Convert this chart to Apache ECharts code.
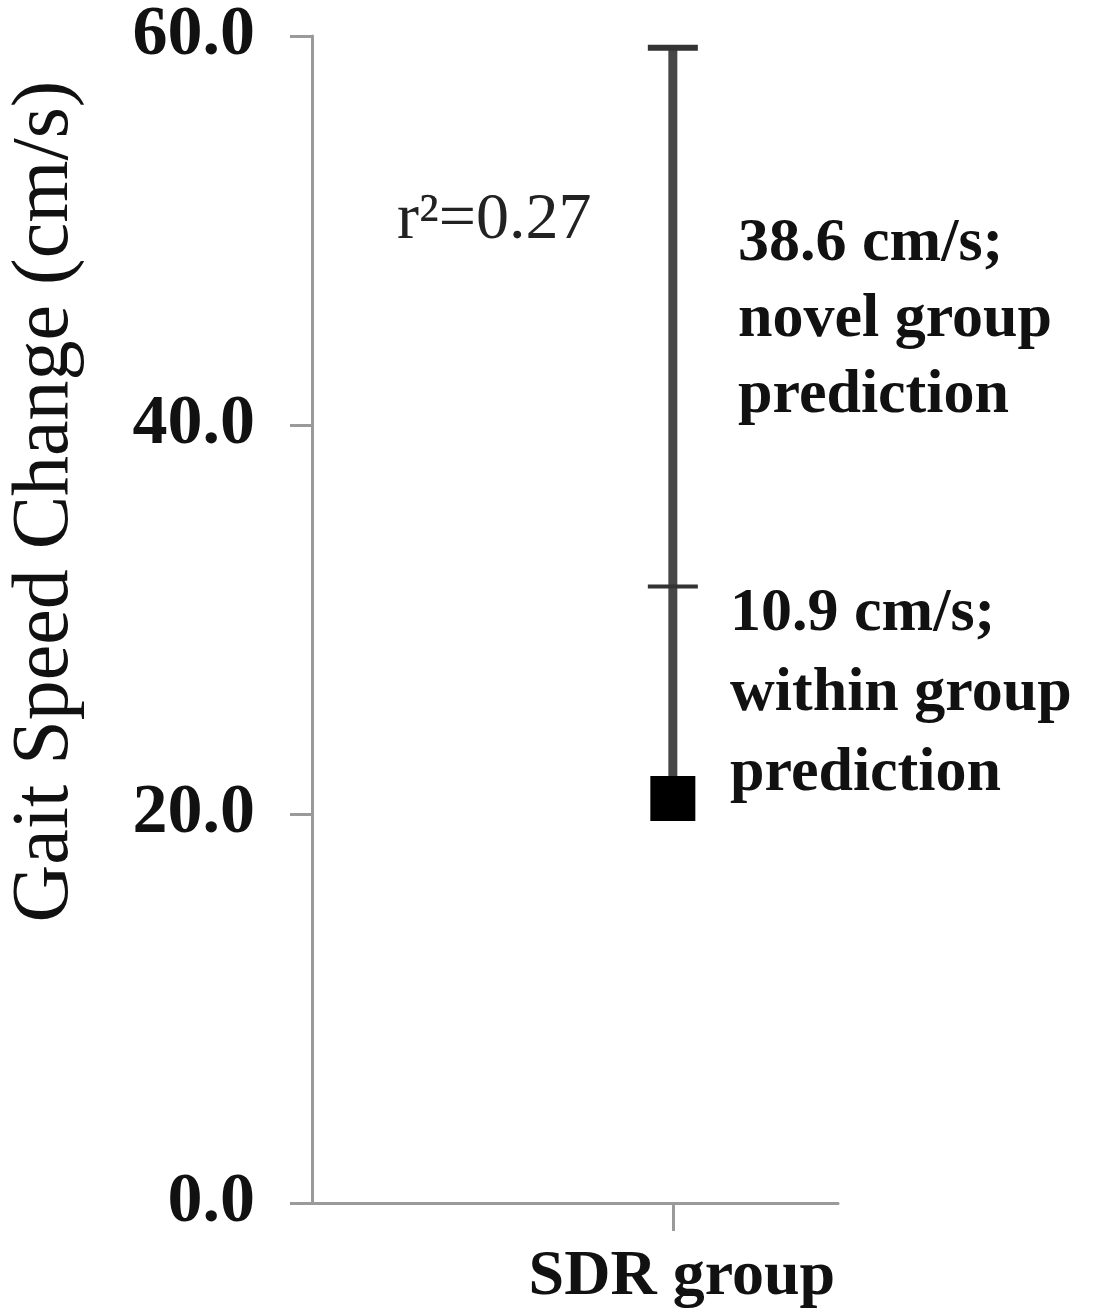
<!DOCTYPE html>
<html>
<head>
<meta charset="utf-8">
<script src="https://cdn.jsdelivr.net/npm/echarts@6/dist/echarts.min.js"></script>
<style>
  html, body { margin: 0; padding: 0; background: #fff; }
  #chart { width: 1095px; height: 1316px; }
</style>
</head>
<body>
<div id="chart"></div>
<script>
// data
const categories = ['SDR group'];
const meanChange = [20.8];     // gait speed change (cm/s)
const withinPred = [10.9];     // within group prediction
const novelPred = [38.6];      // novel group prediction
const yTicks = [0, 20, 40, 60];
const rSquared = 0.27;

const catPos = 0.686;          // where the group sits along the x axis
const serif = 'Liberation Serif';
const axisColor = '#9a9a9a';

const chart = echarts.init(document.getElementById('chart'));

const barData = categories.map((c, i) => [catPos, meanChange[i], withinPred[i], novelPred[i]]);

const option = {
  backgroundColor: '#fff',
  animation: false,
  grid: { left: 312, right: 257, top: 36, bottom: 113 },
  xAxis: {
    type: 'value',
    min: 0,
    max: 1,
    splitLine: { show: false },
    axisLine: { lineStyle: { color: axisColor, width: 3 } },
    axisTick: { customValues: [catPos], length: 28, lineStyle: { color: axisColor, width: 3 } },
    axisLabel: {
      customValues: [catPos],
      formatter: () => categories[0],
      margin: 42,
      fontFamily: serif,
      fontWeight: 'bold',
      fontSize: 64,
      color: '#111',
      padding: [0, 0, 0, 18]
    }
  },
  yAxis: {
    type: 'value',
    min: yTicks[0],
    max: yTicks[yTicks.length - 1],
    interval: 20,
    splitLine: { show: false },
    axisLine: { show: true, lineStyle: { color: axisColor, width: 3 } },
    axisTick: { show: true, length: 22, lineStyle: { color: axisColor, width: 3 } },
    axisLabel: {
      formatter: (v) => v.toFixed(1),
      margin: 57,
      fontFamily: serif,
      fontWeight: 'bold',
      fontSize: 70,
      color: '#111'
    },
    name: 'Gait Speed Change (cm/s)',
    nameLocation: 'middle',
    nameGap: 226,
    nameTextStyle: {
      fontFamily: serif,
      fontSize: 80,
      color: '#111',
      padding: [0, 0, 0, 236]
    }
  },
  series: [
    {
      type: 'custom',
      data: barData,
      z: 2,
      renderItem: function (params, api) {
        const x = api.value(0);
        const m = api.value(1);
        const pMean = api.coord([x, m]);
        const pWithin = api.coord([x, m + api.value(2)]);
        const pNovel = api.coord([x, m + api.value(3)]);
        const half = 25;
        return {
          type: 'group',
          children: [
            {
              type: 'line',
              shape: { x1: pMean[0], y1: pMean[1], x2: pNovel[0], y2: pNovel[1] },
              style: { stroke: '#474747', lineWidth: 9 }
            },
            {
              type: 'line',
              shape: { x1: pWithin[0] - half, y1: pWithin[1], x2: pWithin[0] + half, y2: pWithin[1] },
              style: { stroke: '#333', lineWidth: 4 }
            },
            {
              type: 'line',
              shape: { x1: pNovel[0] - half, y1: pNovel[1], x2: pNovel[0] + half, y2: pNovel[1] },
              style: { stroke: '#333', lineWidth: 6 }
            }
          ]
        };
      }
    },
    {
      type: 'scatter',
      z: 3,
      symbol: 'rect',
      symbolSize: 45,
      itemStyle: { color: '#000', opacity: 1 },
      data: categories.map((c, i) => [catPos, meanChange[i]])
    }
  ],
  graphic: [
    {
      type: 'text',
      left: 397,
      top: 188,
      style: {
        text: 'r\u00b2=' + rSquared.toFixed(2),
        fontFamily: serif,
        fontSize: 66,
        fill: '#222'
      }
    },
    {
      type: 'text',
      left: 738,
      top: 206,
      style: {
        text: novelPred[0].toFixed(1) + ' cm/s;\nnovel group\nprediction',
        fontFamily: serif,
        fontWeight: 'bold',
        fontSize: 62,
        lineHeight: 76,
        fill: '#111'
      }
    },
    {
      type: 'text',
      left: 730,
      top: 574,
      style: {
        text: withinPred[0].toFixed(1) + ' cm/s;\nwithin group\nprediction',
        fontFamily: serif,
        fontWeight: 'bold',
        fontSize: 62,
        lineHeight: 80,
        fill: '#111'
      }
    }
  ]
};

chart.setOption(option);
</script>
</body>
</html>
